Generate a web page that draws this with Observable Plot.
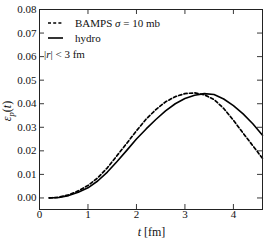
<!DOCTYPE html>
<html>
<head>
<meta charset="utf-8">
<script src="https://cdn.jsdelivr.net/npm/d3@7"></script>
<script src="https://cdn.jsdelivr.net/npm/@observablehq/plot@0.6"></script>
<style>
  html, body { margin: 0; padding: 0; background: #fff; }
  #wrap { position: relative; width: 266px; height: 241px; font-family: "Liberation Serif", serif; }
  #wrap svg text { font-family: "Liberation Serif", serif; }
  #legend { position: absolute; left: 0; top: 0; font-family: "Liberation Serif", serif; font-size: 11px; color: #111; pointer-events: none; }
  #legend .row { position: absolute; white-space: nowrap; line-height: 12px; }
  #legend svg { position: absolute; }
</style>
</head>
<body>
<div id="wrap"></div>
<script>
// ---- data ----
const times = [0.2, 0.4, 0.6, 0.8, 1.0, 1.2, 1.4, 1.6, 1.8, 2.0, 2.2, 2.4, 2.6, 2.8, 3.0, 3.2, 3.4, 3.6, 3.8, 4.0, 4.2, 4.4, 4.6];
const hydro = [0.0000, 0.0002, 0.0010, 0.0024, 0.0043, 0.0072, 0.0110, 0.0155, 0.0202, 0.0250, 0.0293, 0.0333, 0.0370, 0.0400, 0.0422, 0.0436, 0.0443, 0.0439, 0.0420, 0.0392, 0.0357, 0.0315, 0.0266];
const bamps = [0.0000, 0.0003, 0.0013, 0.0030, 0.0053, 0.0085, 0.0128, 0.0180, 0.0232, 0.0285, 0.0335, 0.0375, 0.0408, 0.0430, 0.0443, 0.0446, 0.0438, 0.0418, 0.0380, 0.0330, 0.0275, 0.0222, 0.0168];
const xTicks = [0, 1, 2, 3, 4];
const yTicks = [0.00, 0.01, 0.02, 0.03, 0.04, 0.05, 0.06, 0.07, 0.08];
const xDomain = [0, 4.6];
const yDomain = [-0.0049, 0.08];
const legendLabels = ["BAMPS", "hydro"];

const hydroData = times.map((t, i) => ({t, v: hydro[i]}));
const bampsData = times.map((t, i) => ({t, v: bamps[i]}));

const W = 266, H = 241, mL = 39, mR = 4, mT = 9, mB = 32;
const pw = W - mL - mR, ph = H - mT - mB, tk = 5;
const font = "'Liberation Serif', serif";

const chart = Plot.plot({
  width: W, height: H,
  marginLeft: mL, marginRight: mR, marginTop: mT, marginBottom: mB,
  style: {fontFamily: font, fontSize: "11px", color: "#111", background: "#fff"},
  x: {domain: xDomain, axis: null},
  y: {domain: yDomain, axis: null},
  marks: [
    Plot.axisY(yTicks, {anchor: "left", tickSize: 0, tickPadding: 3, tickFormat: d3.format(".2f"), label: null, fontSize: 11}),
    Plot.axisX(xTicks, {anchor: "bottom", tickSize: 0, tickPadding: 1, tickFormat: d3.format("d"), label: null, fontSize: 11}),
    // inward ticks on all four sides
    Plot.tickY(yTicks, {y: d => d, insetRight: pw - tk, stroke: "#222", strokeWidth: 0.9}),
    Plot.tickY(yTicks, {y: d => d, insetLeft: pw - tk, stroke: "#222", strokeWidth: 0.9}),
    Plot.tickX(xTicks, {x: d => d, insetTop: ph - tk, stroke: "#222", strokeWidth: 0.9}),
    Plot.tickX(xTicks, {x: d => d, insetBottom: ph - tk, stroke: "#222", strokeWidth: 0.9}),
    Plot.line(bampsData, {x: "t", y: "v", stroke: "#000", strokeWidth: 1.7, strokeDasharray: "3.2,2.3"}),
    Plot.line(hydroData, {x: "t", y: "v", stroke: "#000", strokeWidth: 1.6}),
    Plot.frame({stroke: "#222", strokeWidth: 1})
  ]
});

const wrap = document.getElementById("wrap");
wrap.appendChild(chart);

// axis titles with math formatting
const svg = d3.select(chart);
const yl = svg.append("text")
  .attr("transform", `translate(11,${mT + ph / 2 + 2}) rotate(-90)`)
  .attr("text-anchor", "middle")
  .attr("font-family", font).attr("font-size", 12).attr("fill", "#111");
yl.append("tspan").attr("font-style", "italic").text("ε");
yl.append("tspan").attr("font-style", "italic").attr("font-size", 8.5).attr("dy", 2.5).text("p");
yl.append("tspan").attr("dy", -2.5).text("(");
yl.append("tspan").attr("font-style", "italic").text("t");
yl.append("tspan").text(")");

const xl = svg.append("text")
  .attr("x", mL + pw / 2 + 1).attr("y", H - 5)
  .attr("text-anchor", "middle")
  .attr("font-family", font).attr("font-size", 12).attr("fill", "#111");
xl.append("tspan").attr("font-style", "italic").text("t");
xl.append("tspan").text(" [fm]");

// legend
const legend = document.createElement("div");
legend.id = "legend";
legend.innerHTML = `
  <svg style="left:48px;top:19px" width="16" height="8"><line x1="0" y1="4" x2="15" y2="4" stroke="#000" stroke-width="1.7" stroke-dasharray="3,2.2"/></svg>
  <div class="row" style="left:75px;top:17px">${legendLabels[0]} <i>σ</i> = 10 mb</div>
  <svg style="left:48px;top:34px" width="16" height="8"><line x1="0" y1="4" x2="15" y2="4" stroke="#000" stroke-width="1.6"/></svg>
  <div class="row" style="left:75px;top:32px">${legendLabels[1]}</div>
  <div class="row" style="left:44px;top:48px">|<i>r</i>| &lt; 3 fm</div>
`;
wrap.appendChild(legend);
</script>
</body>
</html>
